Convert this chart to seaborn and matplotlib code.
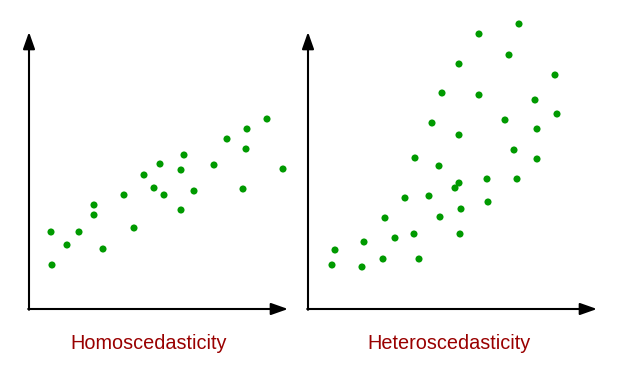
import matplotlib
matplotlib.use('Agg')
import matplotlib.pyplot as plt
import seaborn as sns
import pandas as pd

# nilai (satuan: piksel dari titik asal sumbu)
homo_x = [22, 23, 38, 50, 65, 65, 74, 95, 105, 115, 125, 131, 135, 152, 155, 152, 165, 185, 198, 218, 217, 214, 238, 254]
homo_y = [77, 44, 64, 77, 104, 94, 60, 114, 81, 134, 121, 145, 114, 139, 154, 99, 118, 144, 170, 180, 160, 120, 190, 140]

hetero_x = [211, 171, 201, 151, 247, 134, 171, 227, 124, 197, 249, 151, 229, 206, 107, 131, 229, 151, 147, 179, 209,
            97, 121, 180, 153, 77, 132, 87, 106, 152, 56, 27, 24, 54, 75, 111]
hetero_y = [285, 275, 254, 245, 234, 216, 214, 209, 186, 189, 195, 174, 180, 159, 151, 143, 150, 126, 121, 130, 130,
            111, 113, 107, 100, 91, 92, 71, 75, 75, 67, 59, 44, 42, 50, 50]

labels = ['Homoscedasticity', 'Heteroscedasticity']

sns.set_style('white')
plt.rcParams['font.family'] = ['Liberation Sans', 'DejaVu Sans']

W, H = 627, 380
fig = plt.figure(figsize=(W / 100, H / 100), dpi=100)

# posisi panel dalam piksel: (kiri, asal y, lebar, tinggi, ujung panah x, ujung panah y)
panels = [
    (29, 309, 262, 290, 259, 277, homo_x, homo_y, labels[0], 149),
    (308, 309, 295, 300, 289, 277, hetero_x, hetero_y, labels[1], 449),
]

for left, base, w, h, ax_end, ay_end, xs, ys, lab, cx in panels:
    ax = fig.add_axes([left / W, (H - base) / H, w / W, h / H])
    df = pd.DataFrame({'x': xs, 'y': ys})
    sns.scatterplot(data=df, x='x', y='y', ax=ax, color='#009a00', s=26, edgecolor='none', clip_on=False)
    ax.set_xlim(0, w)
    ax.set_ylim(0, h)
    ax.axis('off')
    arrow = dict(arrowstyle='-|>,head_length=0.85,head_width=0.3', color='black', lw=1.5,
                 shrinkA=0, shrinkB=0, mutation_scale=12)
    ax.annotate('', xy=(ax_end, 0), xytext=(-0.8, 0), arrowprops=arrow, annotation_clip=False)
    ax.annotate('', xy=(0, ay_end), xytext=(0, -0.8), arrowprops=arrow, annotation_clip=False)
    fig.text(cx / W, (H - 349) / H, lab, color='#990000', fontsize=14.3, ha='center', va='baseline')

fig.savefig('out.png', dpi=100, facecolor='white')
